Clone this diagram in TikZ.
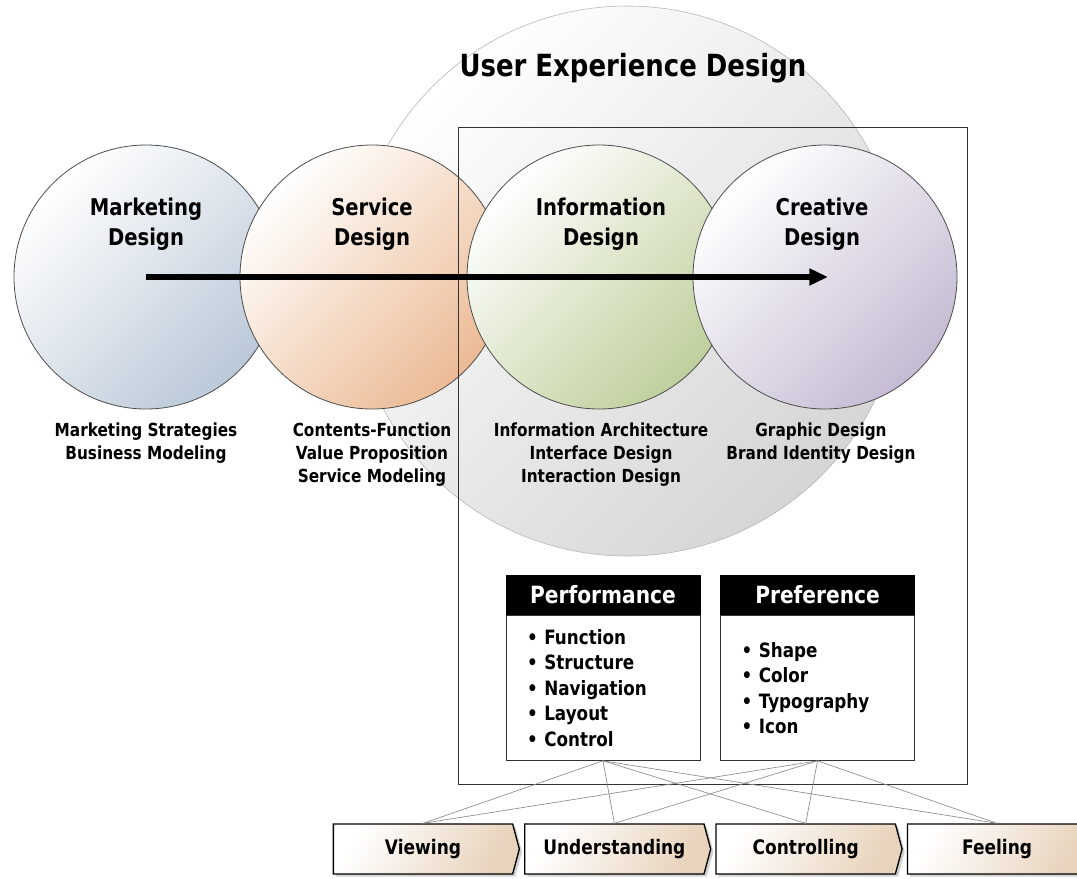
\documentclass[tikz,border=0pt]{standalone}
\usepackage{fontspec}
\setmainfont{DejaVu Sans}[FakeStretch=0.85]
\usepackage{tikz}
\usetikzlibrary{shapes.symbols,arrows.meta,positioning,shadows,calc}
\definecolor{uxgray}{RGB}{213,213,213}
\definecolor{mktblue}{RGB}{196,211,228}
\definecolor{svcorange}{RGB}{248,196,156}
\definecolor{infgreen}{RGB}{201,218,164}
\definecolor{crtpurple}{RGB}{207,197,222}
\definecolor{stagetan}{RGB}{232,211,188}

\begin{document}
\begin{tikzpicture}[
    x=0.75pt, y=-0.75pt,
    bigbubble/.style={circle, draw=black!30, minimum size=412.5pt, inner sep=0pt, top color=white, middle color=uxgray!80!white, bottom color=uxgray, shading angle=45},
    bubble/.style={circle, draw=black!70, line width=0.6pt, minimum size=198pt, inner sep=0pt},
    bubtitle/.style={font=\fontsize{17.3}{22.5}\selectfont\bfseries, align=center, inner sep=0pt},
    bubnote/.style={font=\fontsize{13.5}{17.25}\selectfont\bfseries, align=center, inner sep=0pt, anchor=north},
    uxframe/.style={draw=black!80, line width=0.75pt},
    flow/.style={-{Triangle[length=14pt, width=12pt]}, line width=4pt},
    hdr/.style={rectangle, draw=black, fill=black, text=white, minimum width=145.5pt, minimum height=30pt, inner sep=0pt, font=\fontsize{17.8}{20}\selectfont\bfseries},
    listbox/.style={rectangle, draw=black!80, fill=white, text width=114pt, inner xsep=15.75pt, inner ysep=0pt, minimum height=108.75pt, align=left, font=\fontsize{14.8}{19.1}\selectfont\bfseries},
    stage/.style={signal, signal to=east, signal pointer angle=150, draw=black, line width=1pt, minimum width=139.5pt, minimum height=37.5pt, top color=white, middle color=stagetan!60!white, bottom color=stagetan, shading angle=60, drop shadow={shadow xshift=2pt, shadow yshift=-2pt, fill=black!18, opacity=1}, font=\fontsize{15}{18}\selectfont\bfseries},
    wire/.style={draw=black!45, line width=0.5pt}
]
    \useasboundingbox (0,0) rectangle (1077,878);

    % UX circle
    \node[bigbubble] (ux) at (627,281) {};
    \node[font=\fontsize{22.9}{26}\selectfont\bfseries] (uxtitle) at (633,68) {User Experience Design};

    % Design circles
    \node[bubble, top color=white, middle color=mktblue, bottom color=mktblue!95!black, shading angle=45] (mkt) at (146,277) {};
    \node[bubble, top color=white, middle color=svcorange, bottom color=svcorange!95!black, shading angle=45] (svc) at (372,277) {};
    \node[bubble, top color=white, middle color=infgreen, bottom color=infgreen!95!black, shading angle=45] (inf) at (599,277) {};
    \node[bubble, top color=white, middle color=crtpurple, bottom color=crtpurple!95!black, shading angle=45] (crt) at (825,277) {};

    \node[bubtitle] (mkttitle) at ($(mkt)+(0,-53)$) {Marketing\\Design};
    \node[bubtitle] (svctitle) at ($(svc)+(0,-53)$) {Service\\Design};
    \node[bubtitle] (inftitle) at ($(inf)+(2,-53)$) {Information\\Design};
    \node[bubtitle] (crttitle) at ($(crt)+(-3,-53)$) {Creative\\Design};

    \node[bubnote] (mktnote) at ($(mkt)+(0,146)$) {Marketing Strategies\\Business Modeling};
    \node[bubnote] (svcnote) at ($(svc)+(0,146)$) {Contents-Function\\Value Proposition\\Service Modeling};
    \node[bubnote] (infnote) at ($(inf)+(2,146)$) {Information Architecture\\Interface Design\\Interaction Design};
    \node[bubnote] (crtnote) at ($(crt)+(-4,146)$) {Graphic Design\\Brand Identity Design};

    % Frame and arrow
    \draw[uxframe] (458,127) rectangle (967,784);
    \draw[flow] (mkt.center) -- ($(crt.center)+(3,0)$);

    % Performance / Preference
    \node[hdr] (perfhd) at (603,595) {Performance};
    \node[listbox, below=0pt of perfhd] (perfbody) {• Function\\• Structure\\• Navigation\\• Layout\\• Control};
    \node[hdr, right=15pt of perfhd] (prefhd) {Preference};
    \node[listbox, below=0pt of prefhd] (prefbody) {• Shape\\• Color\\• Typography\\• Icon};

    % Stages
    \node[stage] (view) at (423,849) {Viewing};
    \node[stage, right=3pt of view] (under) {Understanding};
    \node[stage, right=3pt of under] (ctrl) {Controlling};
    \node[stage, right=3pt of ctrl] (feel) {Feeling};

    % Links
    \draw[wire] (perfbody.south) -- (view.north);
    \draw[wire] (perfbody.south) -- (under.north);
    \draw[wire] (perfbody.south) -- (ctrl.north);
    \draw[wire] (perfbody.south) -- (feel.north);
    \draw[wire] (prefbody.south) -- (view.north);
    \draw[wire] (prefbody.south) -- (under.north);
    \draw[wire] (prefbody.south) -- (ctrl.north);
    \draw[wire] (prefbody.south) -- (feel.north);
\end{tikzpicture}
\end{document}
